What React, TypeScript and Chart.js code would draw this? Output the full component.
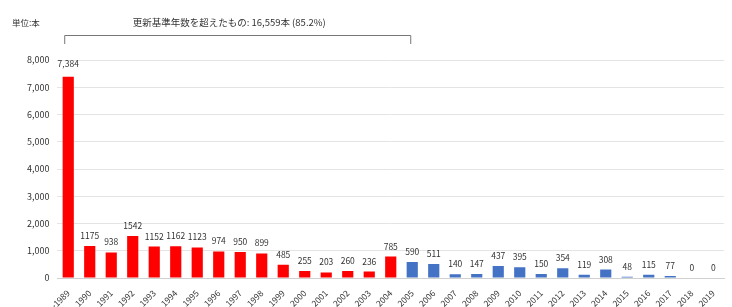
import React, { useEffect, useRef } from "react";
import { Chart, registerables } from "chart.js";

Chart.register(...registerables);

const categories = [
  "～1989", "1990", "1991", "1992", "1993", "1994", "1995", "1996", "1997", "1998",
  "1999", "2000", "2001", "2002", "2003", "2004", "2005", "2006", "2007", "2008",
  "2009", "2010", "2011", "2012", "2013", "2014", "2015", "2016", "2017", "2018", "2019",
];

const values = [
  7384, 1175, 938, 1542, 1152, 1162, 1123, 974, 950, 899,
  485, 255, 203, 260, 236, 785, 590, 511, 140, 147,
  437, 395, 150, 354, 119, 308, 48, 115, 77, 0, 0,
];

const lastRedIndex = 15; // 2004
const yTicks = [0, 1000, 2000, 3000, 4000, 5000, 6000, 7000, 8000];
const unitLabel = "単位:本";
const bracketLabel = "更新基準年数を超えたもの: 16,559本 (85.2%)";
const bracketStart = 0;
const bracketEnd = 16;

const FONT = "'Noto Sans CJK JP', 'DejaVu Sans', sans-serif";

const overlayPlugin = {
  id: "overlay",
  afterDatasetsDraw(chart: any) {
    const ctx = chart.ctx;
    const meta = chart.getDatasetMeta(0);
    ctx.save();
    ctx.fillStyle = "#333";
    ctx.font = `8.5px ${FONT}`;
    ctx.textAlign = "center";
    ctx.textBaseline = "bottom";
    meta.data.forEach((bar: any, i: number) => {
      const v = values[i];
      const txt = i === 0 ? v.toLocaleString("en-US") : String(v);
      ctx.fillText(txt, bar.x, bar.y - (i === 0 ? 9 : 6));
    });
    // header
    ctx.textAlign = "left";
    ctx.textBaseline = "middle";
    ctx.font = `8.5px ${FONT}`;
    ctx.fillText(unitLabel, 12, 23);
    ctx.font = `9.5px ${FONT}`;
    const xs = chart.scales.x;
    const x1 = xs.getPixelForValue(bracketStart) - 4;
    const x2 = xs.getPixelForValue(bracketEnd) - 2;
    ctx.textAlign = "center";
    ctx.fillText(bracketLabel, (x1 + x2) / 2 - 8, 22);
    ctx.strokeStyle = "#777";
    ctx.lineWidth = 1;
    ctx.beginPath();
    ctx.moveTo(x1 + 0.5, 44);
    ctx.lineTo(x1 + 0.5, 35.5);
    ctx.lineTo(x2 + 0.5, 35.5);
    ctx.lineTo(x2 + 0.5, 44);
    ctx.stroke();
    ctx.restore();
  },
};

export default function App() {
  const ref = useRef<HTMLCanvasElement | null>(null);
  useEffect(() => {
    if (!ref.current) return;
    const chart = new Chart(ref.current, {
      type: "bar",
      data: {
        labels: categories,
        datasets: [
          {
            data: values,
            backgroundColor: values.map((_, i) => (i <= lastRedIndex ? "#ff0000" : "#4472c4")),
            barPercentage: 0.52,
            categoryPercentage: 1,
          },
        ],
      },
      options: {
        responsive: false,
        animation: false,
        layout: { padding: { top: 60, left: 19, right: 8, bottom: 0 } },
        plugins: { legend: { display: false }, tooltip: { enabled: false } },
        scales: {
          x: {
            grid: { display: false },
            border: { color: "#d0d0d0" },
            ticks: {
              color: "#333",
              font: { size: 8.5, family: FONT },
              minRotation: 45,
              maxRotation: 45,
              autoSkip: false,
              padding: 2,
            },
            afterFit(scale: any) {
              scale.height = 29;
            },
          },
          y: {
            min: 0,
            max: 8000,
            afterBuildTicks(scale: any) {
              scale.ticks = yTicks.map((v) => ({ value: v }));
            },
            grid: { color: "#e4e4e4", drawTicks: false },
            border: { display: false },
            ticks: {
              color: "#333",
              font: { size: 9, family: FONT },
              padding: 8,
              callback: (v: any) => Number(v).toLocaleString("en-US"),
            },
          },
        },
      },
      plugins: [overlayPlugin],
    });
    return () => chart.destroy();
  }, []);
  return (
    <div style={{ position: "fixed", left: 0, top: 0, width: 732, height: 307, background: "#fff" }}>
      <canvas ref={ref} width={732} height={307} />
    </div>
  );
}
